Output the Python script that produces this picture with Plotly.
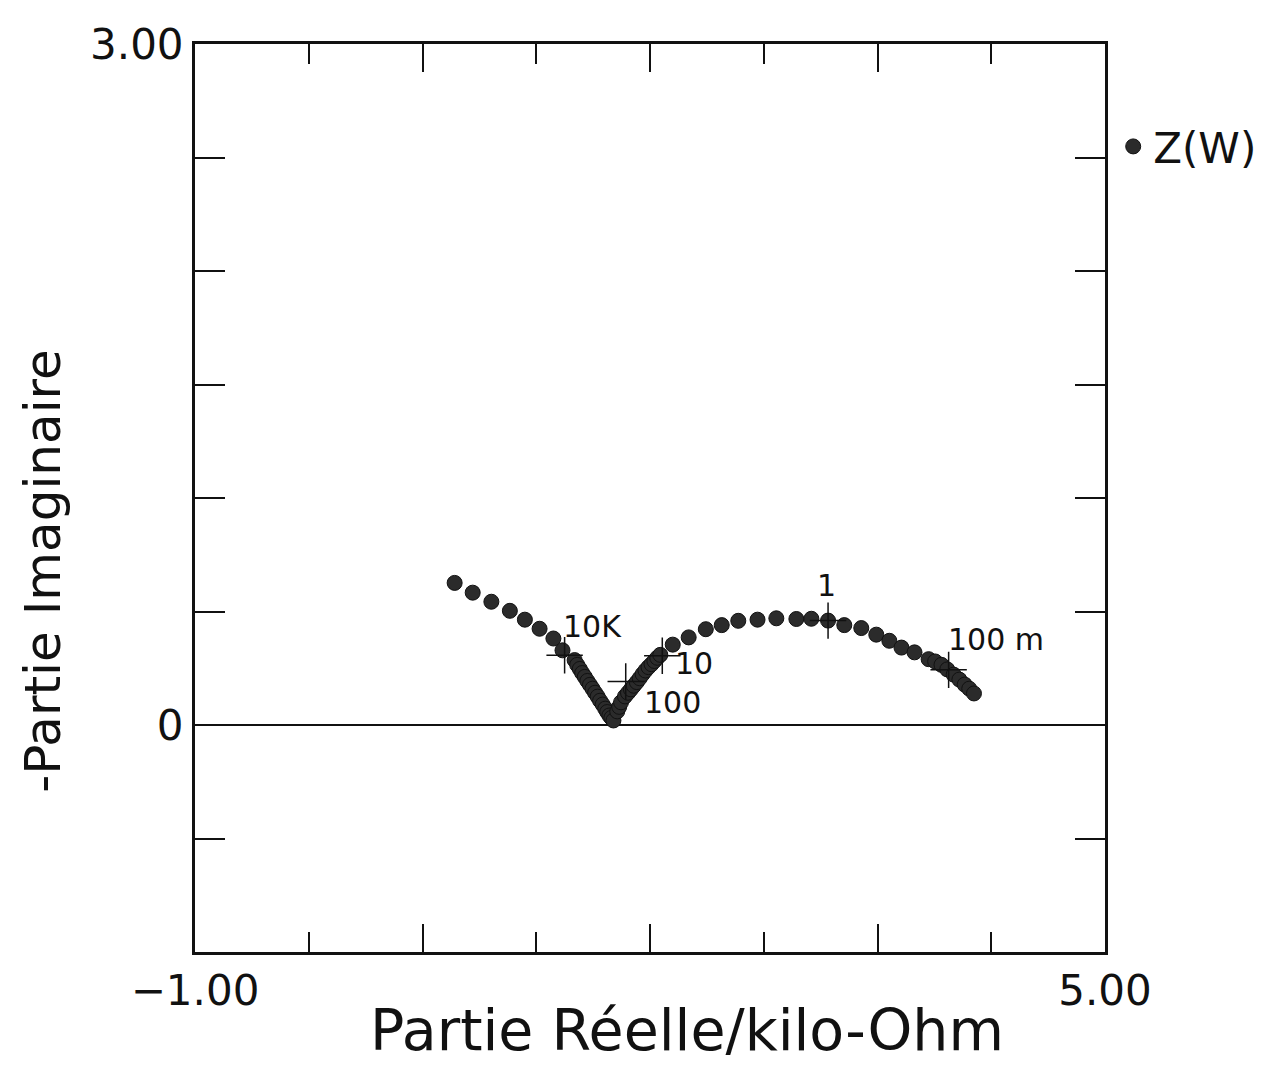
import plotly.graph_objects as go

# Impedance data, Z(W): real part and -imaginary part in kilo-Ohm
re_kohm = [0.712, 0.831, 0.954, 1.076, 1.175, 1.272, 1.363, 1.423, 1.503,
           1.520, 1.537, 1.553, 1.570, 1.587, 1.604, 1.621, 1.638, 1.655,
           1.671, 1.688, 1.705, 1.718, 1.732, 1.745, 1.759,
           1.784, 1.797, 1.809, 1.835, 1.855, 1.874, 1.893, 1.913, 1.932,
           1.951, 1.970, 1.990, 2.010, 2.029, 2.048, 2.068,
           2.150, 2.255, 2.368, 2.473, 2.582, 2.709, 2.833, 2.965, 3.064,
           3.174, 3.281, 3.393, 3.492, 3.578, 3.658, 3.744, 3.837, 3.880,
           3.922, 3.960, 4.002, 4.040, 4.075, 4.105, 4.136]
im_kohm = [0.626, 0.583, 0.543, 0.503, 0.464, 0.424, 0.381, 0.329, 0.286,
           0.265, 0.247, 0.229, 0.212, 0.194, 0.177, 0.160, 0.142, 0.125,
           0.107, 0.090, 0.072, 0.057, 0.042, 0.031, 0.020,
           0.060, 0.080, 0.100, 0.126, 0.142, 0.157, 0.173, 0.189, 0.206,
           0.224, 0.240, 0.255, 0.268, 0.282, 0.296, 0.309,
           0.354, 0.386, 0.422, 0.440, 0.459, 0.464, 0.470, 0.467, 0.468,
           0.460, 0.440, 0.427, 0.398, 0.371, 0.341, 0.320, 0.290, 0.280,
           0.265, 0.245, 0.222, 0.200, 0.178, 0.160, 0.139]

# Frequency markers (Hz)
freq_labels = ["10K", "100", "10", "1", "100 m"]
freq_re = [1.437, 1.840, 2.081, 3.174, 3.969]
freq_im = [0.307, 0.192, 0.305, 0.460, 0.243]

# x-axis tick labels / y-axis tick labels
x_ticks = [-1.0, 0.5, 2.0, 3.5, 5.0]
x_ticktext = ["\u22121.00", "", "", "", "5.00"]
y_ticks = [-1.0, -0.5, 0.0, 0.5, 1.0, 1.5, 2.0, 2.5, 3.0]
y_ticktext = ["", "", "0", "", "", "", "", "", "3.00"]

FONT = "DejaVu Sans"
INK = "#111111"
label_shift = [(28, 29), (47, -21), (32, -8), (-2, 35), (47, 30)]

fig = go.Figure()
fig.add_trace(go.Scatter(
    x=re_kohm, y=im_kohm, mode="markers", name="Z(W)",
    marker=dict(symbol="circle", size=15, color="#2b2b2b",
                line=dict(color=INK, width=1)),
))
fig.add_trace(go.Scatter(
    x=freq_re, y=freq_im, mode="markers", showlegend=False,
    marker=dict(symbol="cross-thin", size=26,
                line=dict(color=INK, width=1.5)),
))

for lab, xv, yv, (dx, dy) in zip(freq_labels, freq_re, freq_im, label_shift):
    fig.add_annotation(x=xv, y=yv, text=lab, showarrow=False,
                       xshift=dx, yshift=dy,
                       font=dict(family=FONT, size=30, color=INK))

# axis titles
fig.add_annotation(xref="paper", yref="paper", x=0.541, y=-0.0855,
                   text="Partie Réelle/kilo-Ohm", showarrow=False,
                   xanchor="center", yanchor="middle",
                   font=dict(family=FONT, size=57, color=INK))
fig.add_annotation(xref="paper", yref="paper", x=-0.168, y=0.419,
                   text="-Partie Imaginaire", showarrow=False, textangle=-90,
                   xanchor="center", yanchor="middle",
                   font=dict(family=FONT, size=50, color=INK))

fig.update_xaxes(
    range=[-1, 5], showgrid=False, zeroline=False,
    showline=True, linecolor=INK, linewidth=3, mirror="ticks",
    ticks="inside", ticklen=28, tickwidth=2, tickcolor=INK,
    tickmode="array", tickvals=x_ticks, ticktext=x_ticktext,
    minor=dict(dtick=0.75, tick0=-1, ticks="inside", ticklen=20,
               tickwidth=2, tickcolor=INK, showgrid=False),
    tickfont=dict(family=FONT, size=42, color=INK),
)
fig.update_yaxes(
    range=[-1, 3], showgrid=False,
    zeroline=True, zerolinecolor=INK, zerolinewidth=2,
    showline=True, linecolor=INK, linewidth=3, mirror="ticks",
    ticks="inside", ticklen=30, tickwidth=2, tickcolor=INK,
    tickmode="array", tickvals=y_ticks, ticktext=y_ticktext,
    tickfont=dict(family=FONT, size=42, color=INK),
)

# page body has an 8px margin, so the figure is sized to fit the window
fig.update_layout(
    width=1276, height=1061,
    margin=dict(l=187, r=179, t=32, b=117),
    paper_bgcolor="white", plot_bgcolor="white",
    showlegend=True,
    legend=dict(x=1.009, y=0.887, xanchor="left", yanchor="middle",
                bgcolor="rgba(0,0,0,0)", itemwidth=30,
                font=dict(family=FONT, size=42, color=INK)),
)

fig.write_html("out.html")
